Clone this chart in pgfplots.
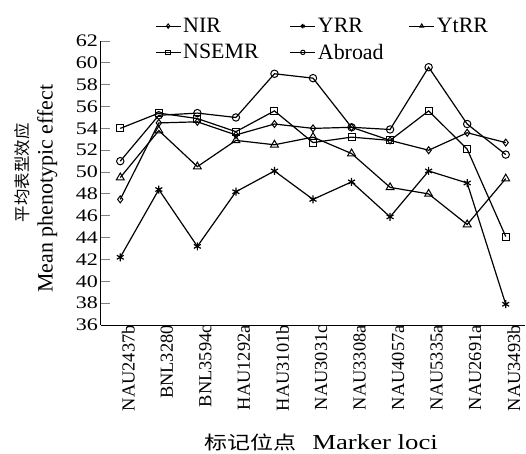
\documentclass[border=0pt]{standalone}
\usepackage{pgfplots}
\pgfplotsset{compat=1.18}
\usepackage{fontspec}
\setmainfont{Liberation Serif}
\newfontfamily\wide[FakeStretch=1.25]{Liberation Serif}
\newfontfamily\cjk{Noto Sans CJK SC}
\newfontfamily\cjkwide[FakeStretch=1.25]{Noto Sans CJK SC}
\begin{document}
\begin{tikzpicture}
\begin{axis}[
  scale only axis,
  width=424bp, height=284bp,
  xmin=-0.5, xmax=10.5,
  ymin=36, ymax=62,
  axis x line*=bottom, axis y line*=left,
  axis line style={-, line width=1bp},
  xtick={0,...,10},
  xticklabels={NAU2437b,BNL3280,BNL3594c,HAU1292a,HAU3101b,NAU3031c,NAU3308a,NAU4057a,NAU5335a,NAU2691a,NAU3493b},
  xtick style={draw=none},
  minor xtick={-0.5,0.5,...,10.5},
  minor tick style={line width=1bp},
  ytick={36,38,...,62},
  ytick style={line width=1bp},
  major tick length=9bp,
  minor tick length=6bp,
  tick align=inside,
  /pgf/number format/assume math mode=true,
  yticklabel style={font=\wide\fontsize{17.7}{18}\selectfont, inner sep=0pt, xshift=-3bp},
  xticklabel style={font=\rmfamily\fontsize{18.5}{19}\selectfont, rotate=90, anchor=east, inner sep=0pt, yshift=-8bp},
  xlabel={{\cjkwide\fontsize{18.5}{20}\selectfont 标记位点}\hspace{16bp}{\wide\fontsize{21.5}{22}\selectfont Marker loci}},
  xlabel style={at={(axis description cs:0.5,0)}, anchor=base, xshift=8bp, yshift=-124bp, inner sep=0pt},
  ylabel={\hspace*{32bp}{\cjk\fontsize{16.5}{24}\selectfont 平均表型效应}\\{\rmfamily\fontsize{22}{24}\selectfont Mean phenotypic effect}},
  ylabel style={align=center, font=\rmfamily\fontsize{22}{24}\selectfont, at={(axis description cs:-0.153,0.48)}, anchor=center, inner sep=0pt},
  legend columns=3,
  legend style={draw=none, fill=none, at={(axis description cs:0.127,1.088)}, anchor=north west,
    font=\rmfamily\fontsize{22}{24}\selectfont, inner sep=0pt, row sep=6bp,
    /tikz/column 2/.style={column sep=29bp},
    /tikz/column 4/.style={column sep=23bp}},
  legend cell align=left,
  legend image code/.code={\draw[#1, mark repeat=2, mark phase=2, mark size=2.2bp] plot coordinates {(0bp,0bp) (12.5bp,0bp) (25bp,0bp)};},
  clip=false,
]
\addplot[black, line width=1.2bp, mark=diamond, mark size=3.5bp, mark options={solid, fill=white, line width=1bp}] coordinates {(0,47.5) (1,54.5) (2,54.6) (3,53.4) (4,54.4) (5,54.0) (6,54.1) (7,52.9) (8,52.0) (9,53.6) (10,52.7)};
\addlegendentry{NIR}
\addplot[black, line width=1.2bp, mark=asterisk, mark size=4bp, mark options={solid, fill=white, line width=1.2bp}] coordinates {(0,42.2) (1,48.4) (2,43.2) (3,48.2) (4,50.1) (5,47.5) (6,49.1) (7,45.9) (8,50.1) (9,49.0) (10,37.9)};
\addlegendentry{YRR}
\addplot[black, line width=1.2bp, mark=triangle, mark size=4.5bp, mark options={solid, fill=white, line width=1bp}] coordinates {(0,49.5) (1,53.8) (2,50.5) (3,52.9) (4,52.5) (5,53.2) (6,51.7) (7,48.6) (8,48.0) (9,45.2) (10,49.4)};
\addlegendentry{YtRR}
\addplot[black, line width=1.2bp, mark=square, mark size=3.5bp, mark options={solid, fill=white, line width=1bp}] coordinates {(0,54.0) (1,55.4) (2,54.9) (3,53.7) (4,55.6) (5,52.7) (6,53.2) (7,52.9) (8,55.6) (9,52.1) (10,44.1)};
\addlegendentry{NSEMR}
\addplot[black, line width=1.2bp, mark=o, mark size=3.7bp, mark options={solid, fill=white, line width=1bp}] coordinates {(0,51.0) (1,55.2) (2,55.4) (3,55.0) (4,59.0) (5,58.6) (6,54.1) (7,53.9) (8,59.6) (9,54.4) (10,51.6)};
\addlegendentry{Abroad}
\end{axis}
\path ([xshift=-101bp,yshift=-129bp]current axis.south west) rectangle ([xshift=1bp,yshift=41bp]current axis.north east);
\end{tikzpicture}
\end{document}
